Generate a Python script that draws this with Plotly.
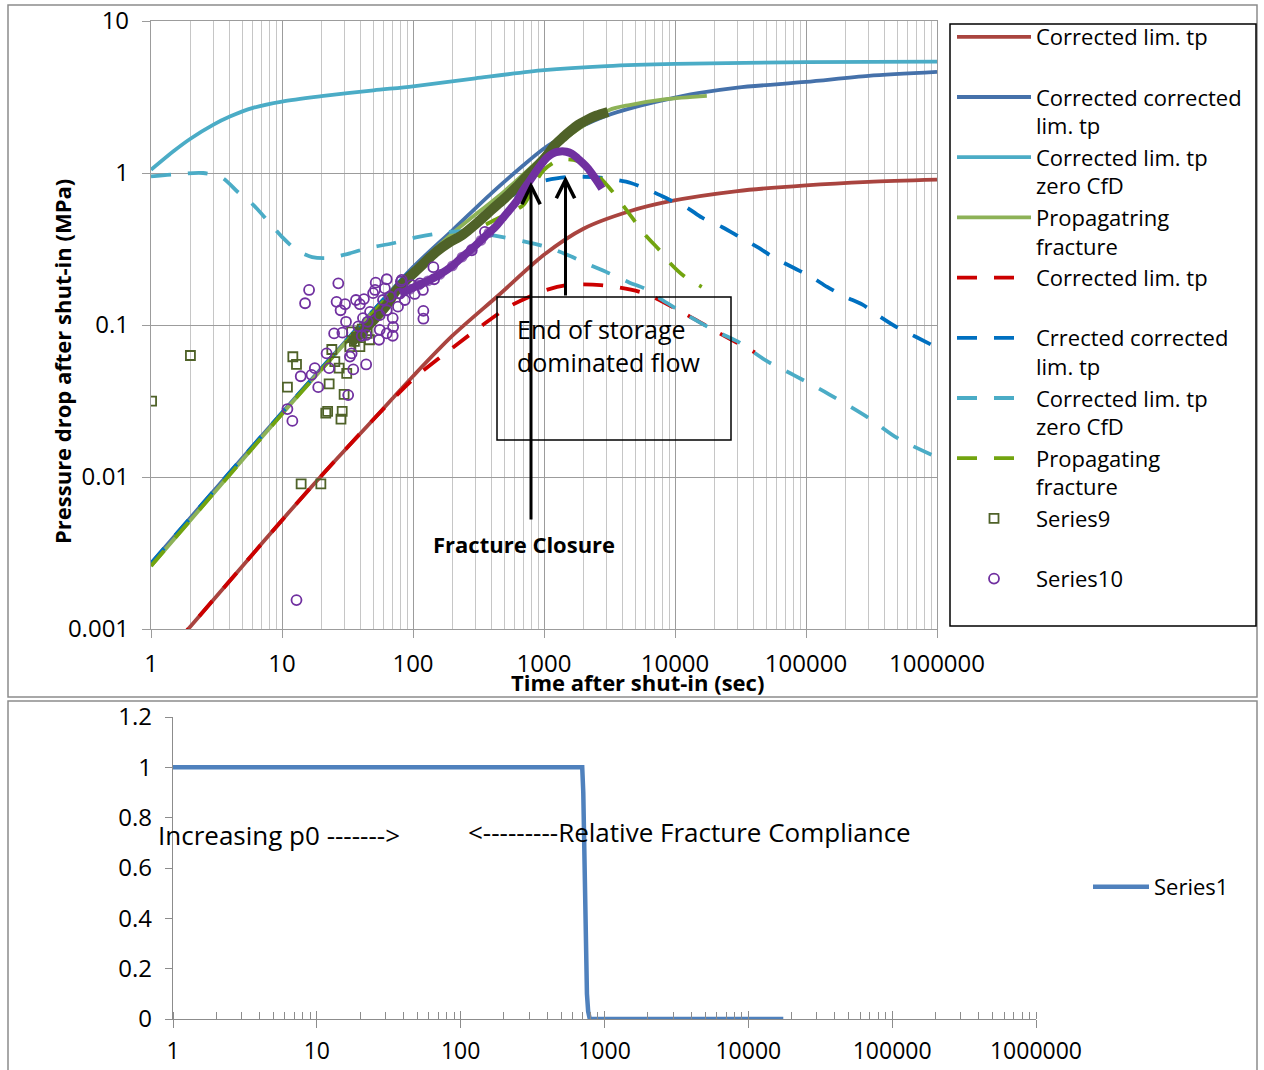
import plotly.graph_objects as go

W, H = 1264, 1070
FONT = "Open Sans"

# ---------------- top chart: pressure drop after shut-in ----------------
# Corrected lim. tp (solid)
t_lim = [1, 2, 5, 10, 20, 50, 100, 200, 450, 1000, 2000, 4500, 9000, 30000, 100000, 300000, 1000000]
p_lim = [0.00052, 0.00104, 0.0026, 0.0052, 0.0102, 0.024, 0.046, 0.085, 0.157, 0.29, 0.43, 0.56, 0.65, 0.76, 0.83, 0.875, 0.905]

# Corrected corrected lim. tp (solid)
t_cc = [1, 2, 5, 10, 20, 50, 100, 200, 400, 700, 1000, 1500, 2000, 3000, 5000, 8000, 15000, 30000, 100000, 300000, 1000000]
p_cc = [0.0027, 0.0054, 0.0134, 0.0265, 0.052, 0.125, 0.24, 0.42, 0.74, 1.13, 1.45, 1.8, 2.05, 2.38, 2.72, 3.0, 3.35, 3.65, 3.97, 4.35, 4.62]

# Corrected lim. tp zero CfD (solid)
t_zero = [1, 1.5, 2, 3, 4, 6, 10, 20, 50, 100, 300, 1000, 3000, 10000, 100000, 1000000]
p_zero = [1.05, 1.4, 1.68, 2.08, 2.35, 2.68, 2.95, 3.2, 3.5, 3.72, 4.2, 4.75, 5.05, 5.22, 5.36, 5.4]

# Propagating fracture (solid)
t_prop = [1, 2, 5, 10, 20, 50, 100, 200, 500, 1000, 1500, 2000, 3150, 4500, 8500, 17500]
p_prop = [0.0026, 0.0052, 0.013, 0.026, 0.051, 0.122, 0.23, 0.40, 0.76, 1.3, 1.72, 2.05, 2.6, 2.8, 3.06, 3.22]

# Corrected lim. tp (dashed)
t_lim_d = [1, 2, 5, 10, 20, 50, 100, 160, 325, 540, 1000, 1500, 2700, 5800, 11600, 21700, 40700]
p_lim_d = [0.00052, 0.00104, 0.0026, 0.0052, 0.0102, 0.024, 0.044, 0.061, 0.097, 0.132, 0.168, 0.183, 0.183, 0.162, 0.12, 0.0885, 0.066]

# Crrected corrected lim. tp (dashed)
t_cc_d = [1, 2, 5, 10, 20, 50, 100, 200, 300, 500, 800, 1000, 1470, 2400, 3300, 4600, 6600, 9000, 12400, 16000,
          23000, 31000, 44000, 56000, 81000, 110000, 145000, 200000, 270000, 370000, 500000, 700000, 1000000]
p_cc_d = [0.0027, 0.0054, 0.0134, 0.0265, 0.052, 0.125, 0.235, 0.37, 0.47, 0.66, 0.84, 0.89, 0.94, 0.94, 0.91, 0.86,
          0.76, 0.67, 0.59, 0.51, 0.44, 0.38, 0.32, 0.28, 0.237, 0.207, 0.178, 0.153, 0.136, 0.113, 0.096, 0.083, 0.071]

# Corrected lim. tp zero CfD (dashed)
t_zero_d = [1, 1.5, 2.5, 3.5, 4.6, 6, 7.7, 10, 13, 17, 22, 30, 45, 70, 110, 170, 250, 400, 700, 1000, 1500, 2200,
            3100, 4500, 6000, 8000, 12000, 20000, 30000, 50000, 80000, 150000, 300000, 500000, 1000000]
p_zero_d = [0.95, 0.98, 1.0, 0.93, 0.75, 0.62, 0.49, 0.38, 0.31, 0.28, 0.276, 0.29, 0.32, 0.345, 0.38, 0.405, 0.415,
            0.39, 0.355, 0.33, 0.29, 0.25, 0.22, 0.19, 0.172, 0.146, 0.118, 0.092, 0.078, 0.058, 0.047, 0.035, 0.0245,
            0.018, 0.0135]

# Propagating fracture (dashed)
t_prop_d = [1, 2, 5, 10, 20, 50, 100, 200, 400, 700, 850, 1000, 1320, 1800, 2400, 3150, 4540, 5800, 7900, 9000, 11700, 16000]
p_prop_d = [0.0026, 0.0052, 0.013, 0.026, 0.051, 0.122, 0.225, 0.35, 0.48, 0.62, 0.85, 1.05, 1.22, 1.2, 1.02, 0.8,
            0.53, 0.40, 0.30, 0.26, 0.21, 0.178]

# Series9: field data (scattered early points)
t_s9 = [1.01, 2.0, 11.0, 12.1, 12.9, 14.0, 19.8, 21.6, 22.3, 22.9, 24.0, 25.3, 27.3, 28.2, 28.8, 29.8, 31.2,
        33, 34, 35.7, 39.3, 44.7, 46.5, 41, 37]
p_s9 = [0.0316, 0.063, 0.039, 0.0618, 0.055, 0.009, 0.009, 0.0263, 0.027, 0.041, 0.069, 0.0574, 0.052, 0.024,
        0.027, 0.035, 0.048, 0.072, 0.09, 0.078, 0.072, 0.088, 0.08, 0.094, 0.083]
# Series9: dense record
t_s9_band = [33, 38, 45, 55, 65, 73, 90, 110, 130, 152, 190, 237, 300, 360, 423, 500, 600, 755, 900, 1050, 1213,
             1400, 1600, 1820, 2100, 2500, 3080]
p_s9_band = [0.075, 0.085, 0.098, 0.118, 0.14, 0.165, 0.2, 0.235, 0.27, 0.305, 0.35, 0.39, 0.46, 0.53, 0.6, 0.68,
             0.79, 0.97, 1.12, 1.3, 1.53, 1.72, 1.9, 2.07, 2.22, 2.38, 2.52]

# Series10: field data (scattered early points)
t_s10 = [16.1, 15, 26.9, 26.1, 28, 30.3, 36.7, 39.3, 42.2, 51.9, 63, 51.3, 61, 30.8, 25, 28.9, 38.2, 40.6, 43.9,
         21.9, 17.8, 16.8, 13.9, 22.9, 18.9, 33, 34, 35, 43.9, 32, 11, 12, 55, 70.5, 70, 63, 120, 120, 80.8, 143,
         12.9, 82, 281, 354, 47, 55.7, 63, 70, 76.8, 86.6, 103, 119, 45, 55.7, 41.5, 49.6, 59, 66.5, 79, 98, 113, 145]
p_s10 = [0.17, 0.139, 0.188, 0.142, 0.125, 0.137, 0.146, 0.137, 0.148, 0.19, 0.2, 0.17, 0.174, 0.105, 0.088, 0.089,
         0.098, 0.085, 0.086, 0.065, 0.052, 0.047, 0.046, 0.052, 0.039, 0.062, 0.065, 0.051, 0.055, 0.0346, 0.028,
         0.0234, 0.08, 0.097, 0.085, 0.088, 0.124, 0.11, 0.193, 0.24, 0.00155, 0.198, 0.31, 0.41, 0.122, 0.116,
         0.125, 0.111, 0.132, 0.146, 0.16, 0.17, 0.105, 0.093, 0.111, 0.162, 0.146, 0.154, 0.161, 0.183, 0.188, 0.2]
# Series10: dense record
t_s10_band = [80, 95, 110, 130, 160, 200, 237, 280, 330, 380, 423, 480, 550, 620, 680, 750, 820, 880, 960, 1040,
              1110, 1200, 1280, 1380, 1480, 1630, 1800, 1980, 2170, 2400, 2600, 2770]
p_s10_band = [0.16, 0.172, 0.183, 0.195, 0.215, 0.245, 0.28, 0.315, 0.36, 0.405, 0.44, 0.5, 0.575, 0.655, 0.75,
              0.85, 0.95, 1.04, 1.15, 1.25, 1.31, 1.36, 1.38, 1.39, 1.38, 1.34, 1.25, 1.16, 1.07, 0.95, 0.86, 0.79]

x_tick_vals = [1, 10, 100, 1000, 10000, 100000, 1000000]
x_tick_text = ["1", "10", "100", "1000", "10000", "100000", "1000000"]
y_tick_vals = [0.001, 0.01, 0.1, 1, 10]
y_tick_text = ["0.001", "0.01", "0.1", "1", "10"]

# ---------------- bottom chart: relative fracture compliance ----------------
t_comp = [1, 10, 100, 700, 712, 725, 740, 755, 770, 790, 1000, 10000, 17500]
c_comp = [1, 1, 1, 1, 0.9, 0.6, 0.3, 0.1, 0.03, 0, 0, 0, 0]
comp_tick_vals = [0, 0.2, 0.4, 0.6, 0.8, 1, 1.2]

# ---------------- styling ----------------
C_BROWN = "#A9443F"
C_BLUE = "#4571AA"
C_CYAN = "#4BACC6"
C_GREEN = "#8DB257"
C_RED = "#CC0000"
C_DBLUE = "#0070C0"
C_DGREEN = "#72A40F"
C_OLIVE = "#4F6228"
C_PURPLE = "#7030A0"
C_S1 = "#4F81BD"
GRID_MAJ = "#9C9C9C"
GRID_MIN = "#C6C6C6"
AX = "#8C8C8C"
DASH = "20px,17px"
LW = 3.8


def px_x(p):
    return p / W


def px_y(p):
    return 1 - p / H


fig = go.Figure()


def curve(x, y, name, color, dash=None):
    fig.add_trace(go.Scatter(
        x=x, y=y, name=name, mode="lines",
        line=dict(color=color, width=LW, dash=dash, shape="spline", smoothing=0.8),
        xaxis="x", yaxis="y", legend="legend"))


curve(t_lim, p_lim, "Corrected lim. tp<br>\u00a0", C_BROWN)
curve(t_cc, p_cc, "Corrected corrected<br>lim. tp", C_BLUE)
curve(t_zero, p_zero, "Corrected lim. tp<br>zero CfD", C_CYAN)
curve(t_prop, p_prop, "Propagatring<br>fracture", C_GREEN)
curve(t_lim_d, p_lim_d, "Corrected lim. tp<br>\u00a0", C_RED, DASH)
curve(t_cc_d, p_cc_d, "Crrected corrected<br>lim. tp", C_DBLUE, DASH)
curve(t_zero_d, p_zero_d, "Corrected lim. tp<br>zero CfD", C_CYAN, DASH)
curve(t_prop_d, p_prop_d, "Propagating<br>fracture", C_DGREEN, DASH)

# Series9
fig.add_trace(go.Scatter(
    x=t_s9, y=p_s9, name="Series9<br>\u00a0", mode="markers",
    marker=dict(symbol="square-open", size=9, color=C_OLIVE, line=dict(width=1.8, color=C_OLIVE)),
    xaxis="x", yaxis="y", legend="legend"))
fig.add_trace(go.Scatter(
    x=t_s9_band, y=p_s9_band, name="Series9", mode="lines", showlegend=False,
    line=dict(color=C_OLIVE, width=10, shape="spline", smoothing=0.8),
    xaxis="x", yaxis="y"))

# Series10
fig.add_trace(go.Scatter(
    x=t_s10, y=p_s10, name="Series10<br>\u00a0", mode="markers",
    marker=dict(symbol="circle-open", size=10, color=C_PURPLE, line=dict(width=1.8, color=C_PURPLE)),
    xaxis="x", yaxis="y", legend="legend"))
# individual rings only show where the record is still sparse
band_ring_size = [9 if t < 400 else 0 for t in t_s10_band]
fig.add_trace(go.Scatter(
    x=t_s10_band, y=p_s10_band, name="Series10", mode="lines+markers", showlegend=False,
    line=dict(color=C_PURPLE, width=8, shape="spline", smoothing=0.8),
    marker=dict(symbol="circle-open", size=band_ring_size, color=C_PURPLE, line=dict(width=1.8, color=C_PURPLE)),
    xaxis="x", yaxis="y"))

# bottom chart
fig.add_trace(go.Scatter(
    x=t_comp, y=c_comp, name="Series1", mode="lines",
    line=dict(color=C_S1, width=4.5),
    xaxis="x2", yaxis="y2", legend="legend2"))
# carrier for the upper half of the crossing major ticks
fig.add_trace(go.Scatter(x=[], y=[], xaxis="x3", yaxis="y2", showlegend=False, hoverinfo="skip"))

tick_font = dict(family=FONT, size=24, color="black")

fig.update_layout(
    width=W, height=H,
    margin=dict(l=0, r=0, t=0, b=0, pad=0, autoexpand=False),
    paper_bgcolor="white", plot_bgcolor="white",
    font=dict(family=FONT, size=22, color="black"),
    xaxis=dict(
        type="log", range=[0, 6], domain=[px_x(151), px_x(937)], anchor="y", automargin=False,
        tickmode="array", tickvals=x_tick_vals, ticktext=x_tick_text,
        ticks="outside", ticklen=8, tickcolor=GRID_MAJ, tickwidth=1.2,
        showgrid=True, gridcolor=GRID_MAJ, gridwidth=1.2,
        minor=dict(dtick="D1", showgrid=True, gridcolor=GRID_MIN, gridwidth=1, ticks=""),
        showline=True, linecolor=GRID_MAJ, linewidth=1.2, mirror=True, zeroline=False,
        tickfont=tick_font, ticklabelstandoff=5,
    ),
    yaxis=dict(
        type="log", range=[-3, 1], domain=[px_y(629), px_y(21)], anchor="x", automargin=False,
        tickmode="array", tickvals=y_tick_vals, ticktext=y_tick_text,
        ticks="outside", ticklen=8, tickcolor=GRID_MAJ, tickwidth=1.2,
        showgrid=True, gridcolor=GRID_MAJ, gridwidth=1.2,
        showline=True, linecolor=GRID_MAJ, linewidth=1.2, mirror=True, zeroline=False,
        tickfont=tick_font, ticklabelstandoff=8,
    ),
    xaxis2=dict(
        type="log", range=[0, 6], domain=[px_x(173), px_x(1036)], anchor="y2", automargin=False,
        tickmode="array", tickvals=x_tick_vals, ticktext=x_tick_text,
        ticks="outside", ticklen=8, tickcolor=AX, tickwidth=1.2,
        minor=dict(dtick="D1", ticks="inside", ticklen=7, tickcolor=AX, tickwidth=1.2, showgrid=False),
        showgrid=False, showline=True, linecolor=AX, linewidth=1.2, zeroline=False,
        tickfont=dict(family=FONT, size=23, color="black"), ticklabelstandoff=3,
    ),
    xaxis3=dict(
        type="log", range=[0, 6], overlaying="x2", anchor="y2", side="bottom", automargin=False,
        tickmode="array", tickvals=x_tick_vals,
        ticks="inside", ticklen=8, tickcolor=AX, tickwidth=1.2,
        showticklabels=False, showgrid=False, showline=False, zeroline=False,
    ),
    yaxis2=dict(
        range=[0, 1.2], domain=[px_y(1019), px_y(717)], anchor="x2", automargin=False,
        tickmode="array", tickvals=comp_tick_vals,
        ticks="outside", ticklen=7, tickcolor=AX, tickwidth=1.2,
        showgrid=False, showline=True, linecolor=AX, linewidth=1.2, zeroline=False,
        tickfont=tick_font, ticklabelstandoff=8,
    ),
    legend=dict(
        x=px_x(952), y=px_y(16), xanchor="left", yanchor="top",
        bgcolor="rgba(0,0,0,0)", borderwidth=0, itemwidth=74, valign="top",
        font=dict(family=FONT, size=22, color="black"), tracegroupgap=0,
    ),
    legend2=dict(
        x=px_x(1088), y=px_y(887), xanchor="left", yanchor="middle",
        bgcolor="rgba(0,0,0,0)", borderwidth=0, itemwidth=56,
        font=dict(family=FONT, size=22, color="black"),
    ),
    showlegend=True,
)

shapes = [
    # outer frames of both charts
    dict(type="rect", xref="paper", yref="paper", x0=px_x(8), x1=px_x(1257), y0=px_y(697), y1=px_y(5),
         line=dict(color=AX, width=1.5), layer="below"),
    dict(type="rect", xref="paper", yref="paper", x0=px_x(8), x1=px_x(1257), y0=px_y(1090), y1=px_y(701),
         line=dict(color=AX, width=1.5), layer="below"),
    # legend box
    dict(type="rect", xref="paper", yref="paper", x0=px_x(950), x1=px_x(1256), y0=px_y(626), y1=px_y(24),
         line=dict(color="black", width=1.5)),
    # storage-flow text box
    dict(type="rect", xref="paper", yref="paper", x0=px_x(497), x1=px_x(731), y0=px_y(440), y1=px_y(297),
         line=dict(color="black", width=1.5)),
]


def note(text, x, y, size, xanchor="center", **kw):
    return dict(text=text, xref="paper", yref="paper", x=px_x(x), y=px_y(y),
                xanchor=xanchor, yanchor="middle", showarrow=False, font=dict(size=size), **kw)


annotations = [
    note("<b>Pressure drop after shut-in (MPa)</b>", 62, 362, 22, textangle=-90),
    note("<b>Time after shut-in (sec)</b>", 637, 682, 22),
    note("<b>Fracture Closure</b>", 524, 544, 22),
    note("End of storage<br>dominated flow", 515, 345, 25, xanchor="left", align="left"),
    note("Increasing p0 ------->", 156, 835, 26, xanchor="left"),
    note("<---------Relative Fracture Compliance", 466, 832, 26, xanchor="left"),
    # fracture closure arrow
    dict(text="", xref="paper", yref="paper", x=px_x(531), y=px_y(182), ax=0, ay=339,
         showarrow=True, arrowhead=5, arrowwidth=3, arrowsize=1.2, arrowcolor="black", standoff=0),
    # end of storage arrow
    dict(text="", xref="paper", yref="paper", x=px_x(565.5), y=px_y(176), ax=0, ay=121,
         showarrow=True, arrowhead=5, arrowwidth=3, arrowsize=1.2, arrowcolor="black", standoff=0),
]

fig.update_layout(shapes=shapes, annotations=annotations)
fig.write_html("out.html")
